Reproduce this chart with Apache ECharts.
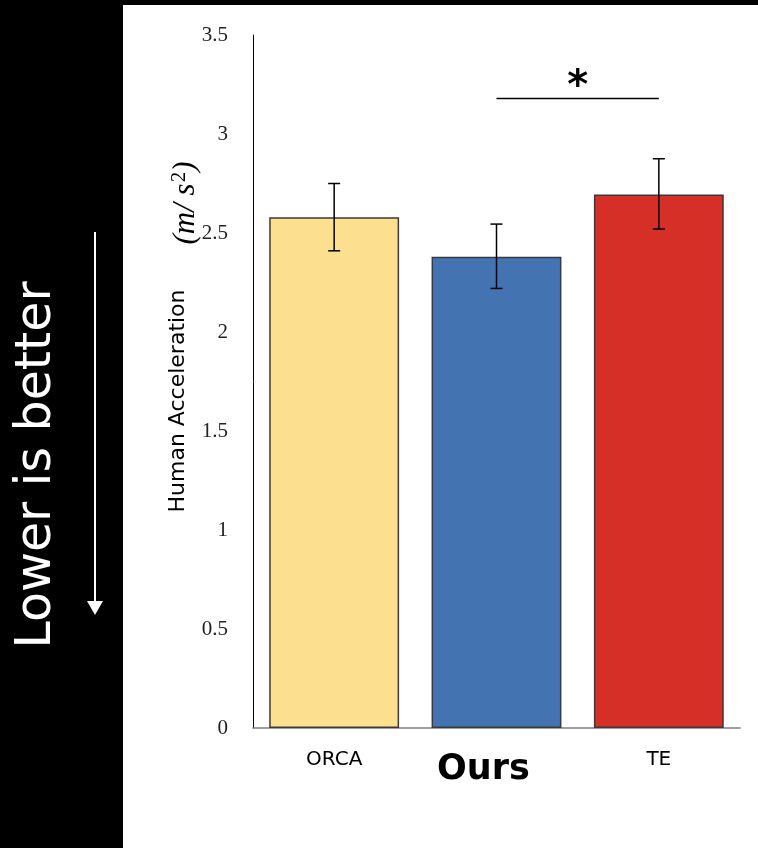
<!DOCTYPE html>
<html><head><meta charset="utf-8">
<script src="https://cdn.jsdelivr.net/npm/echarts@6/dist/echarts.min.js"></script>
<style>html,body{margin:0;padding:0;background:#fff}#c{width:758px;height:848px}</style>
</head><body><div id="c"></div>
<script>
const categories = ['ORCA', 'Ours', 'TE'];
const values = [2.58, 2.38, 2.695];
const errLow = [2.41, 2.22, 2.52];
const errHigh = [2.75, 2.545, 2.875];
const barColors = ['#FDE08F', '#4374B1', '#D62F28'];
const yTicks = [0, 0.5, 1, 1.5, 2, 2.5, 3, 3.5];
const sigPair = ['Ours', 'TE'];
const sigLevel = 3.18;

const chart = echarts.init(document.getElementById('c'));
const option = {
  backgroundColor: '#fff',
  animation: false,
  grid: { left: 253, top: 35, width: 487, height: 693, containLabel: false },
  xAxis: {
    type: 'category', data: categories,
    axisLine: { lineStyle: { color: '#7f7f7f', width: 1.5 } },
    axisTick: { show: false },
    axisLabel: {
      margin: 22,
      formatter: v => v === 'Ours' ? '{b|' + v + '}' : '{n|' + v + '}',
      rich: {
        n: { fontFamily: 'DejaVu Sans', fontSize: 20, color: '#000' },
        b: { fontFamily: 'DejaVu Sans', fontSize: 35, fontWeight: 'bold', color: '#000', padding: [2, 26, 0, 0] }
      }
    }
  },
  yAxis: {
    type: 'value', min: 0, max: 3.5, interval: 0.5,
    axisLine: { show: true, lineStyle: { color: '#000', width: 1 } },
    axisTick: { show: false },
    splitLine: { show: false },
    axisLabel: {
      margin: 25, fontFamily: 'Liberation Serif', fontSize: 21, color: '#222',
      formatter: v => yTicks.includes(v) ? String(v) : ''
    }
  },
  series: [
    {
      type: 'bar', barWidth: '80%',
      data: values.map((v, i) => ({ value: v, itemStyle: { color: barColors[i] } })),
      itemStyle: { borderColor: '#3a3a3a', borderWidth: 1.5 },
      markLine: {
        silent: true, symbol: 'none',
        lineStyle: { color: '#000', width: 1.3, type: 'solid' },
        label: { show: true, position: 'middle', formatter: '*', fontSize: 40, fontWeight: 'bold', fontFamily: 'DejaVu Sans', color: '#000', distance: -9 },
        data: [[{ coord: [sigPair[0], sigLevel] }, { coord: [sigPair[1], sigLevel] }]]
      }
    },
    {
      type: 'custom',
      data: categories.map((c, i) => [i, errLow[i], errHigh[i]]),
      renderItem: (params, api) => {
        const lo = api.coord([api.value(0), api.value(1)]);
        const hi = api.coord([api.value(0), api.value(2)]);
        const hw = 6;
        const st = { stroke: '#000', lineWidth: 1.5 };
        return { type: 'group', children: [
          { type: 'line', shape: { x1: hi[0], y1: hi[1], x2: lo[0], y2: lo[1] }, style: st },
          { type: 'line', shape: { x1: hi[0] - hw, y1: hi[1], x2: hi[0] + hw, y2: hi[1] }, style: st },
          { type: 'line', shape: { x1: lo[0] - hw, y1: lo[1], x2: lo[0] + hw, y2: lo[1] }, style: st }
        ]};
      },
      z: 10
    }
  ],
  graphic: [
    { type: 'rect', shape: { x: 0, y: 0, width: 123, height: 848 }, style: { fill: '#000' }, z: 100 },
    { type: 'rect', shape: { x: 0, y: 0, width: 758, height: 5 }, style: { fill: '#000' }, z: 100 },
    { type: 'text', x: 37, y: 465, rotation: Math.PI / 2, z: 101,
      style: { text: 'Lower is better', fill: '#fff', font: '49px "DejaVu Sans"', align: 'center', verticalAlign: 'middle' } },
    { type: 'line', shape: { x1: 95, y1: 232, x2: 95, y2: 602 }, style: { stroke: '#fff', lineWidth: 2 }, z: 101 },
    { type: 'polygon', shape: { points: [[87, 601], [103, 601], [95, 615]] }, style: { fill: '#fff' }, z: 101 },
    { type: 'text', x: 178, y: 401, rotation: Math.PI / 2, z: 101,
      style: { text: 'Human Acceleration', fill: '#000', font: '22px "DejaVu Sans"', align: 'center', verticalAlign: 'middle' } },
    { type: 'text', x: 186, y: 203, rotation: Math.PI / 2, z: 101,
      style: { text: '(m/ s{sup|2})', fill: '#000', font: 'italic 31px "Liberation Serif"', align: 'center', verticalAlign: 'middle',
        rich: { sup: { font: '21px "Liberation Serif"', fill: '#000', padding: [0, 0, 13, 1] } } } }
  ]
};
chart.setOption(option);
</script>
</body></html>
